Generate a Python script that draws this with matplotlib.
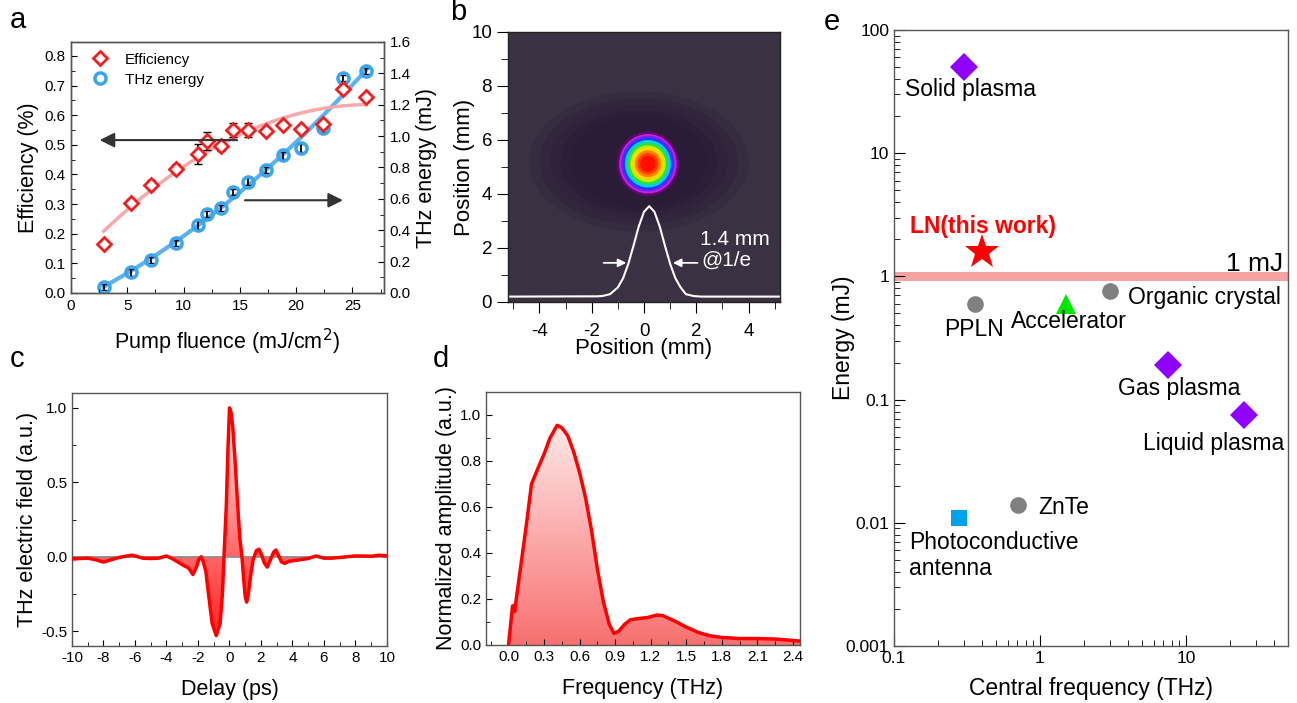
import numpy as np
import matplotlib
matplotlib.use("Agg")
import matplotlib.pyplot as plt
from matplotlib.colors import LinearSegmentedColormap
from matplotlib.patches import Circle, Ellipse
from matplotlib.ticker import MultipleLocator, LogLocator, NullFormatter, FormatStrFormatter

plt.rcParams['font.family'] = ['Liberation Sans', 'DejaVu Sans']
plt.rcParams['axes.edgecolor'] = '#555555'
plt.rcParams['axes.linewidth'] = 1.0
plt.rcParams['axes.unicode_minus'] = False

#Panel a data: pump fluence, efficiency and THz energy
fluence = [2.9, 5.3, 7.1, 9.3, 11.3, 12.05, 13.3, 14.4, 15.75, 17.35, 18.85, 20.45, 22.4, 24.2, 26.2]
efficiency = [0.165, 0.305, 0.365, 0.42, 0.47, 0.512, 0.495, 0.55, 0.55, 0.548, 0.566, 0.553, 0.571, 0.69, 0.66]
eff_err = [0.01, 0.012, 0.015, 0.015, 0.034, 0.03, 0.016, 0.022, 0.022, 0.012, 0.012, 0.012, 0.012, 0.01, 0.01]
energy = [0.038, 0.131, 0.212, 0.32, 0.434, 0.502, 0.54, 0.644, 0.71, 0.782, 0.877, 0.926, 1.05, 1.37, 1.415]
energy_err = [0.02, 0.02, 0.02, 0.02, 0.025, 0.02, 0.02, 0.02, 0.02, 0.02, 0.02, 0.025, 0.025, 0.02, 0.02]

#Panel b data: beam spot rings (radius in mm, colour) and the white profile line
spot_center = (0.15, 5.12)
spot_radii = [1.2, 1.1, 1.03, 0.97, 0.88, 0.78, 0.68, 0.6, 0.5, 0.4, 0.3]
spot_colors = ['#5a0a70', '#d020d0', '#7020ff', '#2038ff', '#00d0e8', '#30e040', '#c0f000', '#ffd800',
               '#ff8000', '#ff4000', '#ff1000']
profile_x = [-5.2, -1.8, -1.6, -1.3, -1.0, -0.8, -0.6, -0.4, -0.2, 0.0, 0.2, 0.4, 0.6, 0.8, 1.0, 1.2, 1.4, 1.6, 1.9, 2.2, 5.2]
profile_y = [0.2, 0.21, 0.22, 0.29, 0.54, 0.88, 1.41, 2.09, 2.8, 3.34, 3.55, 3.34, 2.8, 2.09, 1.41, 0.88, 0.54, 0.29, 0.22, 0.2, 0.2]

#Panel c data: THz waveform
delay = [-10, -9.5, -9, -8.5, -8, -7.5, -7, -6.5, -6.2, -6, -5.5, -5, -4.5, -4, -3.6, -3.2, -2.9, -2.6,
         -2.32, -2.1, -1.95, -1.79, -1.65, -1.5, -1.3, -1.1, -0.84, -0.6, -0.45, -0.35, -0.2, -0.1, 0.0,
         0.1, 0.2, 0.35, 0.5, 0.65, 0.79, 0.9, 1.0, 1.09, 1.2, 1.35, 1.5, 1.7, 1.87, 2.05, 2.2, 2.4, 2.6,
         2.8, 2.95, 3.15, 3.3, 3.5, 3.8, 4.2, 4.5, 5, 5.5, 6, 6.5, 7, 7.5, 8, 8.5, 9, 9.5, 10]
field = [-0.016, -0.012, -0.01, -0.02, -0.036, -0.02, -0.005, 0.005, 0.01, 0.005, -0.01, -0.012, -0.01, 0.005, -0.015,
         -0.04, -0.06, -0.075, -0.12, -0.07, -0.02, 0.0, -0.04, -0.1, -0.28, -0.45, -0.53, -0.45, -0.25, 0.0, 0.35,
         0.72, 1.0, 0.97, 0.88, 0.65, 0.38, 0.13, 0.0, -0.15, -0.27, -0.305, -0.25, -0.12, -0.02, 0.04, 0.05, 0.01,
         -0.04, -0.07, -0.02, 0.03, 0.045, 0.0, -0.035, -0.045, -0.03, -0.025, -0.02, -0.012, 0.005, -0.01, -0.01,
         -0.005, 0.0, 0.005, 0.005, 0.003, 0.01, 0.005]

#Panel d data: spectrum
freq = [0.0, 0.034, 0.045, 0.052, 0.06, 0.1, 0.15, 0.194, 0.25, 0.3, 0.35, 0.41, 0.45, 0.5, 0.55, 0.6, 0.65, 0.7,
        0.75, 0.8, 0.85, 0.89, 0.93, 0.98, 1.03, 1.1, 1.18, 1.25, 1.3, 1.4, 1.5, 1.6, 1.7, 1.8, 1.95, 2.1, 2.25, 2.35, 2.46]
amplitude = [0.0, 0.17, 0.17, 0.145, 0.18, 0.33, 0.52, 0.70, 0.77, 0.83, 0.9, 0.955, 0.945, 0.91, 0.84, 0.75, 0.64,
             0.5, 0.33, 0.19, 0.09, 0.05, 0.06, 0.09, 0.11, 0.115, 0.12, 0.13, 0.128, 0.105, 0.078, 0.055, 0.04, 0.033,
             0.028, 0.028, 0.026, 0.022, 0.017]

#Panel e data: sources (name, central frequency THz, energy mJ)
src_names = ['Solid plasma', 'LN(this work)', 'PPLN', 'Accelerator', 'Organic crystal',
             'Gas plasma', 'Liquid plasma', 'ZnTe', 'Photoconductive\nantenna']
src_freq = [0.3, 0.4, 0.36, 1.5, 3.0, 7.5, 25, 0.71, 0.28]
src_energy = [50, 1.58, 0.6, 0.6, 0.76, 0.19, 0.075, 0.014, 0.011]
src_marker = ['D', '*', 'o', '^', 'o', 'D', 'D', 'o', 's']
src_color = ['#8f00ff', '#ff0000', '#808080', '#00e800', '#808080', '#8f00ff', '#8f00ff', '#808080', '#00a2ec']
src_size = [14, 26, 12, 15, 12, 14, 14, 12, 12]
label_x = [0.119, 0.129, 0.22, 0.633, 4.0, 3.42, 5.07, 0.97, 0.127]
label_y = [33, 2.52, 0.374, 0.427, 0.67, 0.124, 0.0437, 0.0134, 0.0054]

W, H = 1297, 703
fig = plt.figure(figsize=(W / 100, H / 100), dpi=100)


def box(l, t, r, b):
    return [l / W, 1 - b / H, (r - l) / W, (b - t) / H]


def gradient_fill(ax, x, y, c_top, c_bot, y0, y1):
    poly = ax.fill_between(x, y, 0, color='none', lw=0)
    cmap = LinearSegmentedColormap.from_list('g', [c_bot, c_top])
    grad = np.linspace(0, 1, 256).reshape(-1, 1)
    im = ax.imshow(grad, cmap=cmap, aspect='auto', origin='lower',
                   extent=[min(x), max(x), y0, y1], zorder=1)
    im.set_clip_path(poly.get_paths()[0], transform=ax.transData)


#---------------- Panel a ----------------
ax_a = fig.add_axes(box(71, 42, 384, 293))
ax_a2 = ax_a.twinx()
fx = np.linspace(min(fluence), max(fluence), 200)
ax_a.plot(fx, np.polyval(np.polyfit(fluence, efficiency, 2), fx), color='#f7a9a9', lw=2.5, zorder=1)
ax_a2.plot(fx, np.polyval(np.polyfit(fluence, energy, 2), fx), color='#5bb2ee', lw=3, zorder=1)
ax_a.errorbar(fluence, efficiency, yerr=eff_err, fmt='none', ecolor='black', elinewidth=1.3, capsize=3, zorder=2)
ax_a2.errorbar(fluence, energy, yerr=energy_err, fmt='none', ecolor='black', elinewidth=1.3, capsize=3, zorder=2)
l1, = ax_a.plot(fluence, efficiency, 'D', ms=7, mfc='white', mec='#ee2020', mew=2, zorder=3, label='Efficiency')
l2, = ax_a2.plot(fluence, energy, 'o', ms=8, mfc='none', mec='#3ca4ea', mew=2.5, zorder=3, label='THz energy')
ax_a.set_zorder(ax_a2.get_zorder() + 1)
ax_a.patch.set_visible(False)
ax_a.set_xlim(0, 27.8)
ax_a.set_ylim(0, 0.847)
ax_a2.set_ylim(0, 1.6)
ax_a.xaxis.set_major_locator(MultipleLocator(5))
ax_a.xaxis.set_minor_locator(MultipleLocator(2.5))
ax_a.yaxis.set_major_locator(MultipleLocator(0.1))
ax_a.yaxis.set_minor_locator(MultipleLocator(0.05))
ax_a.yaxis.set_major_formatter(FormatStrFormatter('%.1f'))
ax_a2.yaxis.set_major_locator(MultipleLocator(0.2))
ax_a2.yaxis.set_minor_locator(MultipleLocator(0.1))
ax_a2.yaxis.set_major_formatter(FormatStrFormatter('%.1f'))
for ax in (ax_a, ax_a2):
    ax.tick_params(which='both', direction='in', labelsize=11, pad=4)
    ax.tick_params(which='major', length=4)
    ax.tick_params(which='minor', length=3)
ax_a.set_xlabel('Pump fluence (mJ/cm$^2$)', fontsize=15.5, labelpad=10)
ax_a.set_ylabel('Efficiency (%)', fontsize=15.5, labelpad=4)
ax_a2.set_ylabel('THz energy (mJ)', fontsize=15.5, labelpad=4)
ax_a.legend(handles=[l1, l2], loc='upper left', frameon=False, fontsize=11,
            handletextpad=0.6, borderaxespad=0.3, bbox_to_anchor=(0.01, 1.0), labelspacing=0.4)
ax_a.annotate('', xy=(2.3, 0.516), xytext=(15.0, 0.516),
              arrowprops=dict(arrowstyle='-|>', color='#333333', lw=1.5, mutation_scale=22))
ax_a.annotate('', xy=(24.4, 0.313), xytext=(15.2, 0.313),
              arrowprops=dict(arrowstyle='-|>', color='#333333', lw=1.5, mutation_scale=22))

#---------------- Panel b ----------------
ax_b = fig.add_axes(box(508, 32, 780, 302))
ax_b.set_facecolor('#3a3142')
#soft dark halo around the spot
for w, h in [(8.4, 5.2), (7.6, 4.7), (6.8, 4.2), (6.0, 3.8), (5.2, 3.4)]:
    ax_b.add_patch(Ellipse((-0.2, 5.2), w, h, color='#1e0a30', alpha=0.14, lw=0, zorder=0.5))
for r, c in zip(spot_radii, spot_colors):
    ax_b.add_patch(Circle(spot_center, r, color=c, lw=0, zorder=1))
ax_b.plot(profile_x, profile_y, color='white', lw=1.5, zorder=2)
ax_b.annotate('', xy=(-0.57, 1.45), xytext=(-1.65, 1.45),
              arrowprops=dict(arrowstyle='-|>', color='white', lw=1.3, mutation_scale=12), zorder=3)
ax_b.annotate('', xy=(1.0, 1.45), xytext=(2.15, 1.45),
              arrowprops=dict(arrowstyle='-|>', color='white', lw=1.3, mutation_scale=12), zorder=3)
ax_b.text(2.15, 2.3, '1.4 mm', color='white', fontsize=15, va='center', ha='left', zorder=3)
ax_b.text(2.2, 1.55, '@1/e', color='white', fontsize=15, va='center', ha='left', zorder=3)
ax_b.set_xlim(-5.2, 5.2)
ax_b.set_ylim(0, 10)
ax_b.xaxis.set_major_locator(MultipleLocator(2))
ax_b.xaxis.set_minor_locator(MultipleLocator(1))
ax_b.yaxis.set_major_locator(MultipleLocator(2))
ax_b.yaxis.set_minor_locator(MultipleLocator(1))
ax_b.tick_params(which='both', direction='out', labelsize=13.5, color='black')
ax_b.tick_params(which='major', length=8)
ax_b.tick_params(which='minor', length=5)
ax_b.tick_params(axis='x', which='major', pad=7)
for s in ax_b.spines.values():
    s.set_color('#222222')
ax_b.set_xlabel('Position (mm)', fontsize=16, labelpad=-1)
ax_b.set_ylabel('Position (mm)', fontsize=16, labelpad=-3)

#---------------- Panel c ----------------
ax_c = fig.add_axes(box(72, 393, 387, 646))
ax_c.axhline(0, color='#888888', lw=1.2, zorder=1.5)
gradient_fill(ax_c, delay, field, '#ffe8e8', '#ff2020', -0.55, 1.0)
ax_c.plot(delay, field, color='#ff0000', lw=2.5, zorder=3)
ax_c.set_xlim(-10, 10)
ax_c.set_ylim(-0.6, 1.1)
ax_c.xaxis.set_major_locator(MultipleLocator(2))
ax_c.xaxis.set_minor_locator(MultipleLocator(1))
ax_c.yaxis.set_major_locator(MultipleLocator(0.5))
ax_c.yaxis.set_minor_locator(MultipleLocator(0.25))
ax_c.yaxis.set_major_formatter(FormatStrFormatter('%.1f'))
ax_c.tick_params(which='both', direction='in', labelsize=11)
ax_c.tick_params(which='major', length=4)
ax_c.tick_params(which='minor', length=3)
ax_c.set_xlabel('Delay (ps)', fontsize=15.5, labelpad=10)
ax_c.set_ylabel('THz electric field (a.u.)', fontsize=15.5, labelpad=2)

#---------------- Panel d ----------------
ax_d = fig.add_axes(box(486, 392, 800, 645))
gradient_fill(ax_d, freq, amplitude, '#ffe8e8', '#f87070', 0.0, 0.96)
ax_d.plot(freq, amplitude, color='#ff0000', lw=2.5, zorder=3)
ax_d.set_xlim(-0.19, 2.46)
ax_d.set_ylim(0, 1.1)
ax_d.xaxis.set_major_locator(MultipleLocator(0.3))
ax_d.xaxis.set_minor_locator(MultipleLocator(0.15))
ax_d.xaxis.set_major_formatter(FormatStrFormatter('%.1f'))
ax_d.yaxis.set_major_locator(MultipleLocator(0.2))
ax_d.yaxis.set_minor_locator(MultipleLocator(0.1))
ax_d.yaxis.set_major_formatter(FormatStrFormatter('%.1f'))
ax_d.tick_params(which='both', direction='in', labelsize=11)
ax_d.tick_params(which='major', length=4)
ax_d.tick_params(which='minor', length=3)
ax_d.set_xlabel('Frequency (THz)', fontsize=15.5, labelpad=10)
ax_d.set_ylabel('Normalized amplitude (a.u.)', fontsize=15.5, labelpad=2)

#---------------- Panel e ----------------
ax_e = fig.add_axes(box(894, 30, 1288, 646))
ax_e.set_xscale('log')
ax_e.set_yscale('log')
ax_e.axhline(1, color='#f4a3a3', lw=6.5, zorder=1)
for i in range(len(src_names)):
    ax_e.plot(src_freq[i], src_energy[i], marker=src_marker[i], color=src_color[i],
              ms=src_size[i], mew=0, ls='none', zorder=3)
    if i == 1:
        ax_e.text(label_x[i], label_y[i], src_names[i], color='#ff0000', fontsize=16.5,
                  fontweight='bold', va='center', ha='left')
    else:
        ax_e.text(label_x[i], label_y[i], src_names[i], color='black', fontsize=16.5,
                  va='center', ha='left', linespacing=1.15)
ax_e.text(46, 1.1, '1 mJ', fontsize=19, ha='right', va='baseline')
ax_e.set_xlim(0.1, 50)
ax_e.set_ylim(0.001, 100)
ax_e.xaxis.set_major_formatter(FormatStrFormatter('%g'))
ax_e.yaxis.set_major_formatter(FormatStrFormatter('%g'))
ax_e.xaxis.set_minor_locator(LogLocator(base=10, subs=np.arange(2, 10)))
ax_e.yaxis.set_minor_locator(LogLocator(base=10, subs=np.arange(2, 10)))
ax_e.xaxis.set_minor_formatter(NullFormatter())
ax_e.yaxis.set_minor_formatter(NullFormatter())
ax_e.tick_params(which='both', direction='in', labelsize=12.5, zorder=4)
ax_e.tick_params(which='major', length=8)
ax_e.tick_params(which='minor', length=4)
ax_e.set_xlabel('Central frequency (THz)', fontsize=16.5, labelpad=8)
ax_e.set_ylabel('Energy (mJ)', fontsize=16.5, labelpad=-7)

#Panel letters
for letter, px, py in [('a', 10, 28), ('b', 450, 20), ('c', 10, 367), ('d', 433, 367), ('e', 824, 30)]:
    fig.text(px / W, 1 - py / H, letter, fontsize=21, va='baseline', ha='left')

fig.savefig('out.png', dpi=100)
